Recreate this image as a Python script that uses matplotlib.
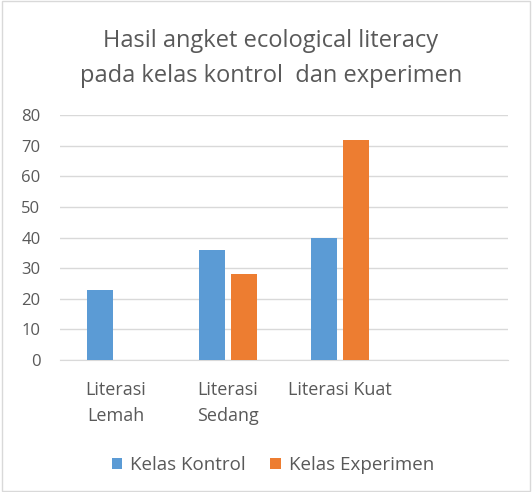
import matplotlib.pyplot as plt
import matplotlib.patches as mpatches
import numpy as np

plt.rcParams['font.family'] = ['Open Sans', 'DejaVu Sans']

# Data
categories = ["Literasi\nLemah", "Literasi\nSedang", "Literasi Kuat", ""]
kontrol = [23, 36, 40, 0]
experimen = [0, 28, 72, 0]
series_names = ["Kelas Kontrol", "Kelas Experimen"]
title = "Hasil angket ecological literacy\npada kelas kontrol  dan experimen"

blue = '#5B9BD5'
orange = '#ED7D31'
grey_text = '#595959'
grid_col = '#D9D9D9'

fig = plt.figure(figsize=(5.32, 4.92), dpi=100)
ax = fig.add_axes([60 / 532, 1 - 360 / 492, 448 / 532, 244.7 / 492])

x = np.arange(len(categories))
w = 0.227
off = 0.142
ax.bar(x - off, kontrol, w, color=blue, label=series_names[0], zorder=3)
ax.bar(x + off, experimen, w, color=orange, label=series_names[1], zorder=3)

ax.set_xlim(-0.5, len(categories) - 0.5)
ax.set_ylim(0, 80)
ax.set_yticks(range(0, 81, 10))
ax.set_xticks(x)
ax.set_xticklabels(categories, color=grey_text, fontsize=13, linespacing=1.6)
ax.tick_params(axis='y', colors=grey_text, labelsize=12, length=0, pad=14)
ax.tick_params(axis='x', length=0, pad=15)
ax.grid(axis='y', color=grid_col, linewidth=1, zorder=0)
for s in ['left', 'right', 'top']:
    ax.spines[s].set_visible(False)
ax.spines['bottom'].set_color(grid_col)

fig.text(271 / 532, 1 - 58.5 / 492, title, ha='center', va='center',
         fontsize=17, color=grey_text, linespacing=1.65)

fig.legend(loc='center', bbox_to_anchor=(273 / 532, 1 - 465 / 492), ncol=2,
           frameon=False, fontsize=13.5, labelcolor=grey_text,
           handlelength=0.55, handleheight=0.55, handletextpad=0.45, columnspacing=1.3)

fig.patches.append(mpatches.Rectangle((0.003, 0.003), 0.994, 0.994, transform=fig.transFigure,
                                      fill=False, edgecolor=grid_col, linewidth=1))

fig.savefig('out.png', dpi=100, facecolor='white')
